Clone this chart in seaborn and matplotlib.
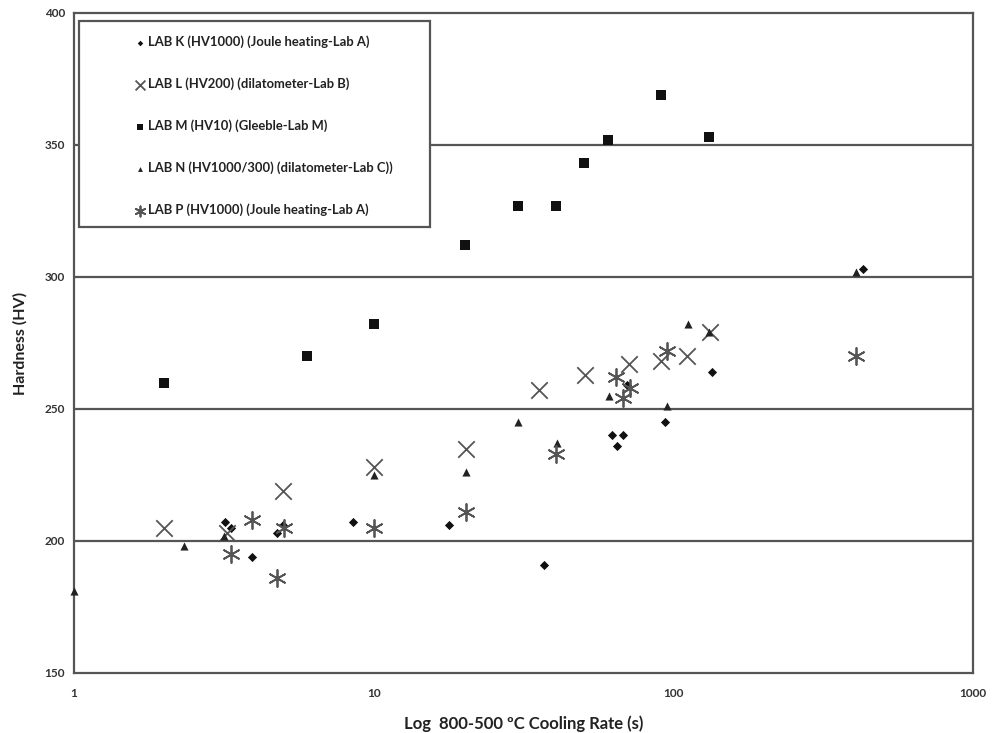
import pandas as pd
import seaborn as sns
import matplotlib.pyplot as plt
from matplotlib.patches import Rectangle
from matplotlib.ticker import FixedLocator, FixedFormatter

# cooling time (s) and hardness (HV) per lab
lab_k_x = [3.2, 3.33, 3.94, 4.75, 5.0, 8.5, 17.8, 37.0, 62.2, 68.1, 64.7, 70.0, 93.7, 134.0, 428.0]
lab_k_y = [207, 205, 194, 203, 206, 207, 206, 191, 240, 240, 236, 259, 245, 264, 303]

lab_l_x = [2.0, 3.23, 5.0, 10.0, 20.3, 35.6, 50.7, 71.1, 90.9, 111.3, 132.5]
lab_l_y = [205, 203, 219, 228, 235, 257, 263, 267, 268, 270, 279]

lab_m_x = [2.0, 6.0, 10.0, 20.2, 30.2, 40.6, 50.4, 60.6, 90.9, 131.5]
lab_m_y = [260, 270, 282, 312, 327, 327, 343, 352, 369, 353]

lab_n_x = [1.0, 2.32, 3.17, 10.0, 20.3, 30.4, 40.8, 61.0, 95.0, 111.6, 131.0, 406.0]
lab_n_y = [181, 198, 202, 225, 226, 245, 237, 255, 251, 282, 279, 302]

lab_p_x = [3.33, 3.94, 4.75, 5.02, 10.0, 20.3, 40.6, 64.2, 68.1, 71.6, 95.5, 406.0]
lab_p_y = [195, 208, 186, 205, 205, 211, 233, 262, 254, 258, 272, 270]

labels = ['LAB K (HV1000) (Joule heating-Lab A)',
          'LAB L (HV200) (dilatometer-Lab B)',
          'LAB M (HV10) (Gleeble-Lab M)',
          'LAB N (HV1000/300) (dilatometer-Lab C))',
          'LAB P (HV1000) (Joule heating-Lab A)']

y_ticks = [150, 200, 250, 300, 350, 400]
x_ticks = [1, 10, 100, 1000]

sns.set_style('white')
plt.rcParams['font.family'] = ['Lato', 'DejaVu Sans']

fig = plt.figure(figsize=(9.92, 7.33), dpi=100)
ax = fig.add_axes([0.0746, 0.0819, 0.9064, 0.9004])

for y in y_ticks[1:-1]:
    ax.axhline(y, color='#555555', lw=1.6, zorder=1)

series = [
    (lab_k_x, lab_k_y, dict(marker='D', s=22, color='#111111', linewidth=0)),
    (lab_l_x, lab_l_y, dict(marker='x', s=140, color='#555555', linewidth=1.3)),
    (lab_m_x, lab_m_y, dict(marker='s', s=42, color='#111111', linewidth=0)),
    (lab_n_x, lab_n_y, dict(marker='^', s=34, color='#222222', linewidth=0)),
    (lab_p_x, lab_p_y, dict(marker=(6, 2, 0), s=150, color='#555555', linewidth=1.3)),
]
for (xs, ys, kw), lab in zip(series, labels):
    df = pd.DataFrame({'x': xs, 'y': ys})
    sns.scatterplot(data=df, x='x', y='y', ax=ax, label=lab, zorder=3, clip_on=False, **kw)

ax.set_xscale('log')
ax.set_xlim(1, 1000)
ax.set_ylim(150, 400)
ax.xaxis.set_major_locator(FixedLocator(x_ticks))
ax.xaxis.set_major_formatter(FixedFormatter([str(v) for v in x_ticks]))
ax.xaxis.set_minor_locator(FixedLocator([]))
ax.set_yticks(y_ticks)
ax.tick_params(axis='both', labelsize=8.5, labelcolor='#333333', length=3,
               color='#555555', width=1)
ax.tick_params(axis='x', pad=8)
for t in ax.get_xticklabels() + ax.get_yticklabels():
    t.set_fontweight('bold')

for sp in ax.spines.values():
    sp.set_visible(True)
    sp.set_color('#555555')
    sp.set_linewidth(1.6)

ax.set_xlabel('Log  800-500 ºC Cooling Rate (s)', fontsize=12, fontweight='bold',
              color='#222222', labelpad=12)
ax.set_ylabel('Hardness (HV)', fontsize=11.5, fontweight='bold', color='#222222',
              labelpad=12)

handles, labs = ax.get_legend_handles_labels()
leg = ax.legend(handles, labs, loc='upper left', bbox_to_anchor=(0.066, 0.9655),
                frameon=False, borderpad=0, borderaxespad=0, handlelength=1.0,
                handletextpad=0.15, labelspacing=2.24, markerscale=0.6,
                prop={'size': 9.4, 'weight': 'bold'})
for t in leg.get_texts():
    t.set_color('#222222')

ax.add_patch(Rectangle((0.0056, 0.676), 0.39, 0.312, transform=ax.transAxes,
                       fill=True, facecolor='white', edgecolor='#555555', lw=1.6,
                       zorder=2.5))
leg.set_zorder(5)

fig.savefig('out.png', dpi=100)
